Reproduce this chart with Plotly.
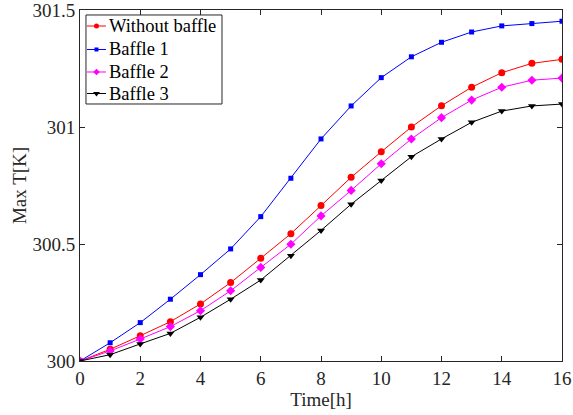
import plotly.graph_objects as go

# Hourly maximum temperature for each configuration
time_h = list(range(0, 17))
without_baffle = [300.000, 300.050, 300.108, 300.168, 300.244, 300.335, 300.439, 300.544,
                  300.664, 300.785, 300.894, 301.000, 301.091, 301.170, 301.232, 301.272, 301.289]
baffle_1 = [300.000, 300.078, 300.164, 300.264, 300.369, 300.479, 300.617, 300.781,
            300.949, 301.090, 301.211, 301.300, 301.362, 301.406, 301.432, 301.442, 301.452]
baffle_2 = [300.000, 300.043, 300.094, 300.147, 300.215, 300.300, 300.400, 300.499,
            300.620, 300.729, 300.843, 300.949, 301.040, 301.115, 301.170, 301.200, 301.209]
baffle_3 = [300.000, 300.027, 300.073, 300.118, 300.187, 300.264, 300.346, 300.450,
            300.558, 300.670, 300.771, 300.873, 300.949, 301.020, 301.068, 301.090, 301.098]

x_ticks = list(range(0, 17, 2))
y_ticks = [300, 300.5, 301, 301.5]
y_tick_labels = ["300", "300.5", "301", "301.5"]

series = [
    ("Without baffle", without_baffle, "#ff0000", "circle", 7, 5),
    ("Baffle 1", baffle_1, "#0000ff", "square", 5, 4),
    ("Baffle 2", baffle_2, "#ff00ff", "diamond", 7, 5),
    ("Baffle 3", baffle_3, "#000000", "triangle-down", 7, 6),
]

SERIF = "Liberation Serif"
tick_font = dict(family=SERIF, size=19, color="#262626")
title_font = dict(family=SERIF, size=19, color="#262626")
legend_font = dict(family=SERIF, size=18.5, color="#000000")

fig = go.Figure()
for name, vals, color, symbol, size, _ in series:
    fig.add_trace(go.Scatter(
        x=time_h, y=vals, name=name, mode="lines+markers", showlegend=False,
        line=dict(color=color, width=1),
        marker=dict(color=color, symbol=symbol, size=size),
    ))

# Boxed legend in the upper-left corner, laid out in plot-area fractions
legend_box = dict(x0=0.0124, x1=0.2946, y0=0.7322, y1=0.9858)
legend_rows = [0.9544, 0.8875, 0.8234, 0.7621]
sample_line_x = [0.0145, 0.0539]
sample_marker_x = 0.0342
text_x = 0.056

fig.add_shape(type="rect", xref="paper", yref="paper", **legend_box,
              line=dict(color="#262626", width=1), fillcolor="white", layer="below")
for (name, _, color, symbol, _, small), row in zip(series, legend_rows):
    fig.add_trace(go.Scatter(
        x=sample_line_x, y=[row, row], xaxis="x2", yaxis="y2", mode="lines",
        showlegend=False, hoverinfo="skip", line=dict(color=color, width=1),
    ))
    fig.add_trace(go.Scatter(
        x=[sample_marker_x], y=[row], xaxis="x2", yaxis="y2", mode="markers",
        showlegend=False, hoverinfo="skip",
        marker=dict(color=color, symbol=symbol, size=small),
    ))
    fig.add_annotation(x=text_x, y=row, xref="paper", yref="paper", text=name,
                       showarrow=False, xanchor="left", yanchor="middle",
                       font=legend_font)

axis_common = dict(
    showgrid=False, zeroline=False, showline=True, mirror="ticks",
    linecolor="#262626", linewidth=1, ticks="inside", ticklen=5,
    tickcolor="#262626", tickfont=tick_font, automargin=False,
    ticklabeloverflow="allow",
)

fig.update_layout(
    width=573, height=415,
    margin=dict(l=80, r=11, t=10, b=54),
    paper_bgcolor="white", plot_bgcolor="white",
    font=tick_font,
    showlegend=False,
    xaxis=dict(range=[0, 16], tickvals=x_ticks,
               title=dict(text="Time[h]", font=title_font, standoff=4), **axis_common),
    yaxis=dict(range=[300, 301.5], tickvals=y_ticks, ticktext=y_tick_labels,
               title=dict(text="Max T[K]", font=title_font, standoff=0), **axis_common),
    xaxis2=dict(overlaying="x", range=[0, 1], visible=False, fixedrange=True),
    yaxis2=dict(overlaying="y", range=[0, 1], visible=False, fixedrange=True),
)

fig.write_html("out.html")
